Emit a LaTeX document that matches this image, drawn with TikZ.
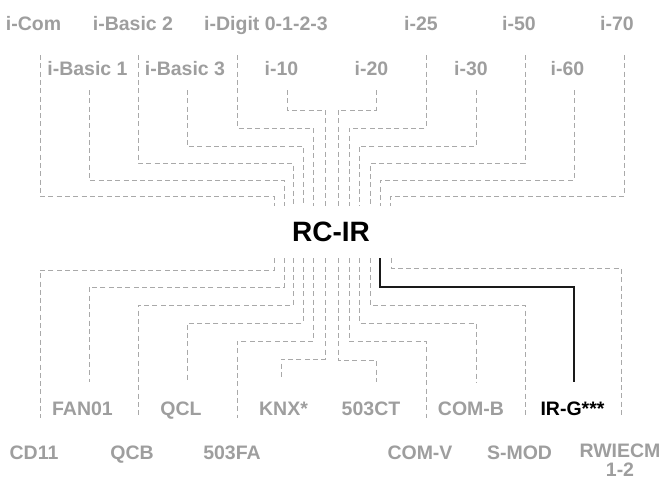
\documentclass[tikz,border=0pt]{standalone}
\usepackage{fontspec}
\setmainfont{Liberation Sans}
\definecolor{dim}{HTML}{9E9E9E}
\definecolor{wirec}{HTML}{A9A9A9}
\definecolor{hot}{HTML}{1A1A1A}

\begin{document}
\begin{tikzpicture}[x=1pt,y=-1pt,
    lbl/.style={font=\fontsize{19.5}{20}\selectfont\bfseries,text=dim,anchor=base,inner sep=0pt},
    hub/.style={font=\fontsize{28}{30}\selectfont\bfseries,text=black,inner sep=0pt,minimum height=52pt},
    wire/.style={draw=wirec,line width=1pt,dash pattern=on 5pt off 3.3pt},
    live/.style={draw=hot,line width=1.2pt}]
  \useasboundingbox (0,0) rectangle (662,480);

  % labels
  \path
  (33.5,30) node[lbl] (icom) {i-Com}
  (133,30) node[lbl] (ibasic2) {i-Basic 2}
  (266,30) node[lbl] (idigit) {i-Digit 0-1-2-3}
  (421,30) node[lbl] (i25) {i-25}
  (519,30) node[lbl] (i50) {i-50}
  (617,30) node[lbl] (i70) {i-70}
  (87.5,75) node[lbl] (ibasic1) {i-Basic 1}
  (185,75) node[lbl] (ibasic3) {i-Basic 3}
  (281.5,75) node[lbl] (i10) {i-10}
  (371.5,75) node[lbl] (i20) {i-20}
  (471,75) node[lbl] (i30) {i-30}
  (567.5,75) node[lbl] (i60) {i-60}
  (331,232) node[hub] (rcir) {RC-IR}
  (82.5,415) node[lbl] (fan01) {FAN01}
  (181,415) node[lbl] (qcl) {QCL}
  (283.5,415) node[lbl] (knx) {KNX*}
  (371,415) node[lbl] (ct503) {503CT}
  (471,415) node[lbl] (comb) {COM-B}
  (572.5,415) node[lbl,text=black] (irg) {IR-G***}
  (34,459) node[lbl] (cd11) {CD11}
  (132,459) node[lbl] (qcb) {QCB}
  (232,459) node[lbl] (fa503) {503FA}
  (420,459) node[lbl] (comv) {COM-V}
  (519.5,459) node[lbl] (smod) {S-MOD}
  (620,476) node[lbl,align=center,font=\fontsize{19.5}{19}\selectfont\bfseries] (rwiecm) {RWIECM\\1-2}
  ;

  % wire ends under the labels
  \path
  (40,55) coordinate (icom-end)
  (89,90) coordinate (ibasic1-end)
  (138,55) coordinate (ibasic2-end)
  (187,90) coordinate (ibasic3-end)
  (237,55) coordinate (idigit-end)
  (287,90) coordinate (i10-end)
  (376,90) coordinate (i20-end)
  (426,55) coordinate (i25-end)
  (476,90) coordinate (i30-end)
  (525,55) coordinate (i50-end)
  (574,90) coordinate (i60-end)
  (624,55) coordinate (i70-end)
  (40,418) coordinate (cd11-end)
  (89,382) coordinate (fan01-end)
  (138,418) coordinate (qcb-end)
  (187,382) coordinate (qcl-end)
  (237,418) coordinate (fa503-end)
  (281,380) coordinate (knx-end)
  (376,382) coordinate (ct503-end)
  (426,418) coordinate (comv-end)
  (476,382) coordinate (comb-end)
  (525,418) coordinate (smod-end)
  (574,382) coordinate (irg-end)
  (621,418) coordinate (rwiecm-end)
  ;

  % turning points next to RC-IR
  \path
  (274,196) coordinate (ta)
  (284,180) coordinate (tb)
  (293,163) coordinate (tc)
  (303,146) coordinate (td)
  (313,128) coordinate (te)
  (325,110) coordinate (tf)
  (338,110) coordinate (tg)
  (349,128) coordinate (th)
  (359,146) coordinate (ti)
  (370,163) coordinate (tj)
  (380,180) coordinate (tk)
  (390,196) coordinate (tl)
  (274,270) coordinate (ba)
  (284,287) coordinate (bb)
  (293,305) coordinate (bc)
  (303,323) coordinate (bd)
  (313,341) coordinate (be)
  (325,359) coordinate (bf)
  (338,360) coordinate (bg)
  (349,341) coordinate (bh)
  (359,323) coordinate (bi)
  (370,305) coordinate (bj)
  (380,287) coordinate (bk)
  (391,268) coordinate (bl)
  ;

  % inputs
  \draw[wire] (icom-end) |- (ta) -- (rcir.north -| ta);
  \draw[wire] (ibasic1-end) |- (tb) -- (rcir.north -| tb);
  \draw[wire] (ibasic2-end) |- (tc) -- (rcir.north -| tc);
  \draw[wire] (ibasic3-end) |- (td) -- (rcir.north -| td);
  \draw[wire] (idigit-end) |- (te) -- (rcir.north -| te);
  \draw[wire] (i10-end) |- (tf) -- (rcir.north -| tf);
  \draw[wire] (i20-end) |- (tg) -- (rcir.north -| tg);
  \draw[wire] (i25-end) |- (th) -- (rcir.north -| th);
  \draw[wire] (i30-end) |- (ti) -- (rcir.north -| ti);
  \draw[wire] (i50-end) |- (tj) -- (rcir.north -| tj);
  \draw[wire] (i60-end) |- (tk) -- (rcir.north -| tk);
  \draw[wire] (i70-end) |- (tl) -- (rcir.north -| tl);

  % outputs
  \draw[wire] (rcir.south -| ba) -- (ba) -| (cd11-end);
  \draw[wire] (rcir.south -| bb) -- (bb) -| (fan01-end);
  \draw[wire] (rcir.south -| bc) -- (bc) -| (qcb-end);
  \draw[wire] (rcir.south -| bd) -- (bd) -| (qcl-end);
  \draw[wire] (rcir.south -| be) -- (be) -| (fa503-end);
  \draw[wire] (rcir.south -| bf) -- (bf) -| (knx-end);
  \draw[wire] (rcir.south -| bg) -- (bg) -| (ct503-end);
  \draw[wire] (rcir.south -| bh) -- (bh) -| (comv-end);
  \draw[wire] (rcir.south -| bi) -- (bi) -| (comb-end);
  \draw[wire] (rcir.south -| bj) -- (bj) -| (smod-end);
  \draw[live] (rcir.south -| bk) -- (bk) -| (irg-end);
  \draw[wire] (rcir.south -| bl) -- (bl) -| (rwiecm-end);
\end{tikzpicture}
\end{document}
